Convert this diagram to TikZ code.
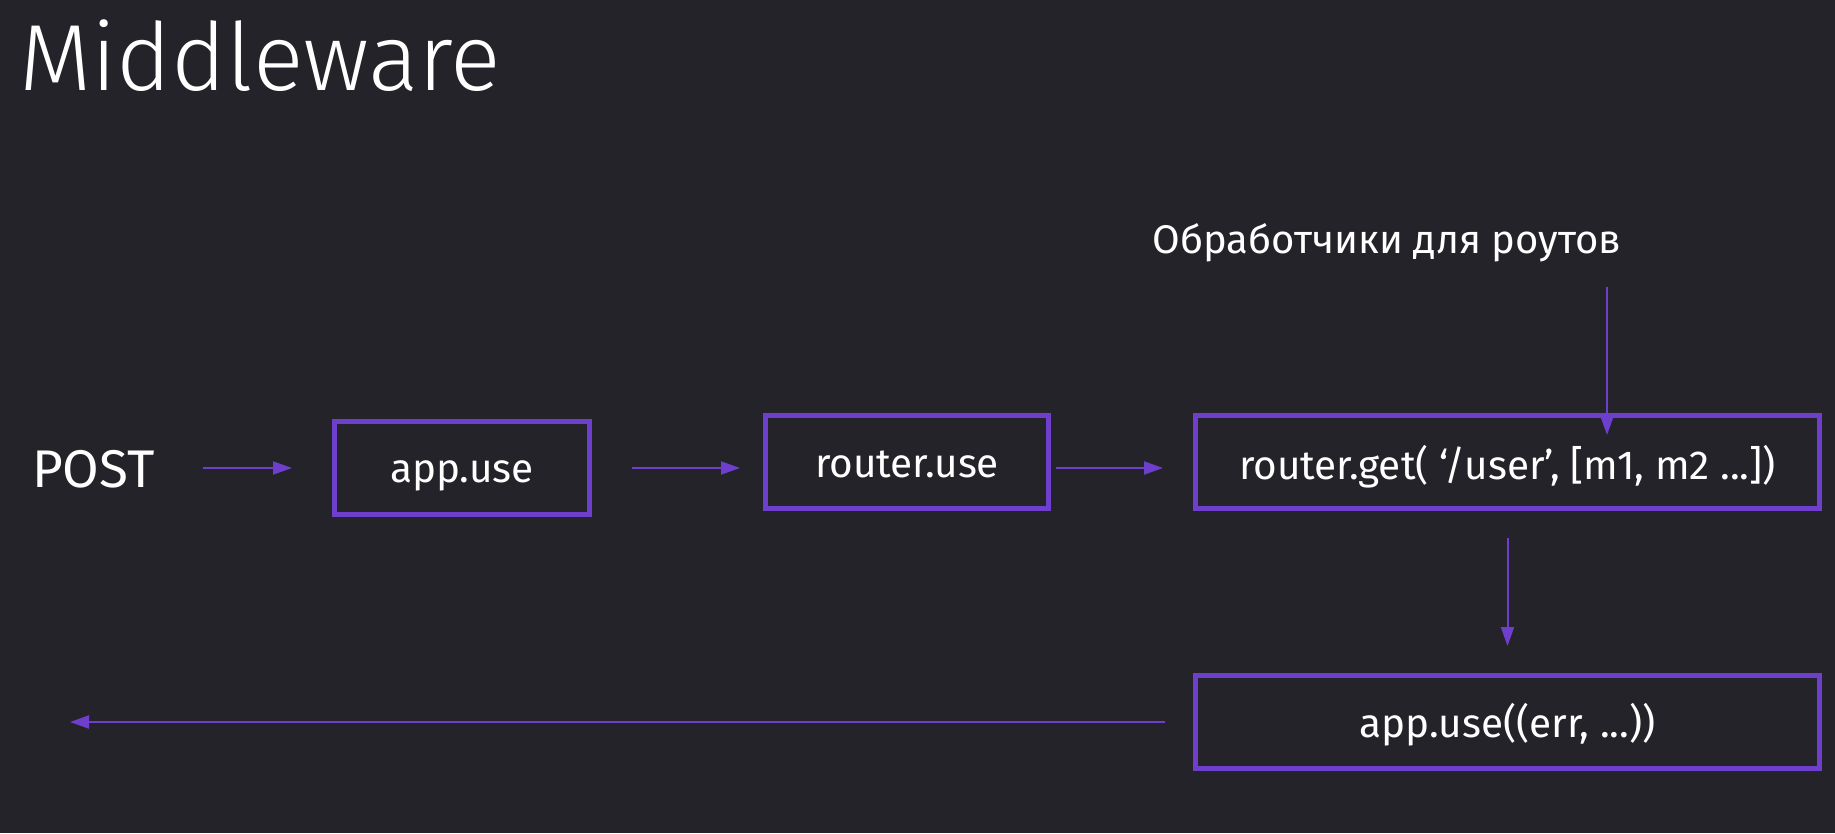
\documentclass[tikz,border=0pt]{standalone}
\usepackage{fontspec}
\setmainfont{Fira Sans}
\newfontfamily\titlefont{Fira Sans Light}
\usetikzlibrary{arrows.meta,calc}
\definecolor{bg}{RGB}{36,35,41}
\definecolor{vio}{RGB}{110,62,204}
\tikzset{
  box/.style={draw=vio, line width=5.3pt, text=white, inner sep=0pt, text depth=0pt, text height=30pt,
    minimum height=92.7pt, font=\fontsize{40.5}{48}\selectfont},
  lbl/.style={text=white, inner sep=0pt},
  arr/.style={draw=vio, line width=2pt, -{Triangle[length=19pt,width=13pt]}},
}
\begin{document}
\begin{tikzpicture}[x=1pt,y=-1pt]
\fill[bg] (0,0) rectangle (1835,833);
\useasboundingbox (0,0) rectangle (1835,833);
\node[lbl, anchor=base west, font=\titlefont\fontsize{94}{100}\selectfont] (title) at (19,90) {Middleware};
\node[lbl, anchor=base, font=\fontsize{53}{60}\selectfont] (post) at (93.5,487) {POST};
\node[box, minimum width=254.7pt, text height=28pt] (app) at (462,468) {app.use};
\node[box, minimum width=282.7pt] (ru) at (907,462) {router.use};
\node[box, minimum width=623.7pt, text height=34pt] (rg) at (1507.5,462) {router.get( ‘/user’, [m1, m2 ...])};
\node[box, minimum width=623.7pt] (err) at (1507.5,722) {app.use((err, ...))};
\node[lbl, anchor=base, font=\fontsize{40}{46}\selectfont] (hd) at (1387,253) {Обработчики для роутов};
\coordinate (out) at (70,722);
\draw[arr, shorten <=48pt, shorten >=40pt] (post.east |- app.west) -- (app.west);
\draw[arr, shorten <=40pt, shorten >=23pt] (app.east) -- (app.east -| ru.west);
\draw[arr, shorten <=5pt, shorten >=30pt] (app.east -| ru.east) -- (app.east -| rg.west);
\draw[arr, shorten <=25pt, shorten >=-22pt] ([xshift=99.5pt]rg.north |- hd.south) -- ([xshift=99.5pt]rg.north);
\draw[arr, shorten <=27pt, shorten >=27pt] (rg.south) -- (err.north);
\draw[arr, shorten <=28pt] (err.west) -- (out);
\end{tikzpicture}
\end{document}
